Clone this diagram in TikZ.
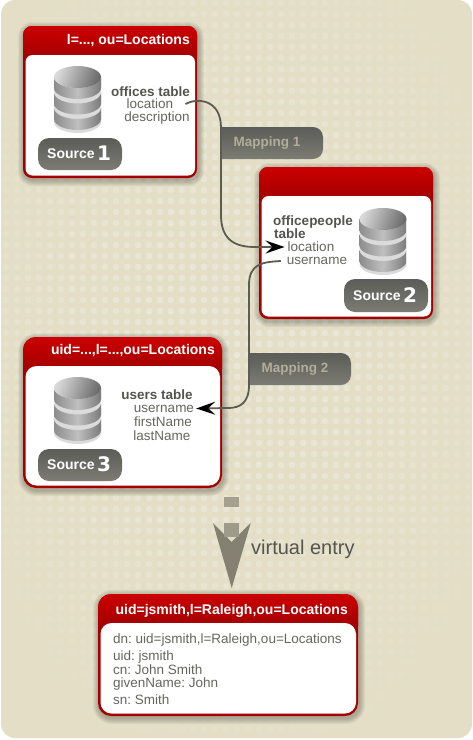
\documentclass[tikz,border=0pt]{standalone}
\usepackage{fontspec}
\setmainfont{Liberation Sans}
\newfontfamily\numfont{DejaVu Sans}
\frenchspacing
\usetikzlibrary{arrows.meta}

\definecolor{paper}{HTML}{E3DEC5}
\definecolor{paperdot}{HTML}{EBE7D8}
\definecolor{boxred}{HTML}{CC0000}
\definecolor{boxdark}{HTML}{A30000}
\definecolor{inktext}{HTML}{555550}
\definecolor{fieldink}{HTML}{666660}
\definecolor{wire}{HTML}{5C5C50}
\definecolor{slatetop}{HTML}{5C5C58}
\definecolor{slatebottom}{HTML}{7C7C74}

% red box: left, top, right, bottom, radius
\newcommand{\redbox}[5]{
    \foreach \g in {6,5,4,3,2,1} {
        \fill[black, opacity=0.045, rounded corners={#5+\g}]
            ({#1-\g+1},{#2-\g+2}) rectangle ({#3+\g+1},{#4+\g+2});
    }
    \fill[boxdark!95!boxred, rounded corners=#5] (#1,#2) rectangle (#3,#4);
    \shade[top color=boxred, bottom color=boxdark] (#1,{#2+32}) [rounded corners=#5] -- (#1,#2) -- (#3,#2) [sharp corners] -- (#3,{#2+32}) -- cycle;
    \fill[white, rounded corners={#5-2}] ({#1+2.5},{#2+29}) rectangle ({#3-2},{#4-2.5});
}

\tikzset{
    headtext/.style={anchor=east, inner sep=0pt, text=white, font=\fontsize{14}{14}\selectfont\bfseries},
    tablehead/.style={text=inktext, font=\fontsize{13.5}{13.5}\selectfont\bfseries, inner sep=0pt},
    fieldtext/.style={text=fieldink, font=\fontsize{13.5}{13.5}\selectfont, inner sep=0pt},
    badge/.style={rounded corners=11pt, top color=slatetop, bottom color=slatebottom},
    badgetext/.style={text=white, font=\fontsize{14}{14}\selectfont\bfseries, anchor=base west, inner sep=0pt},
    badgenum/.style={text=white, font=\numfont\fontsize{20}{20}\selectfont\bfseries, anchor=base west, inner sep=0pt},
    tab/.style={top color=slatetop, bottom color=slatebottom},
    tabtext/.style={text=paper!78!black, font=\fontsize{13.5}{13.5}\selectfont\bfseries, inner sep=0pt},
    link/.style={draw=wire, line width=1.8pt},
    tiptop/.style={-{Stealth[length=19pt,width=13pt,inset=7pt,black]}},
    dbicon/.pic={
        % tiers, bottom one first
        \foreach \t in {31,15.5,0} {
            \fill[black!14] (-23.5,\t+11) -- (-23.5,\t+25) arc (180:0:23.5 and 11) -- (23.5,\t+11) -- cycle;
            \shade[left color=black!45, right color=black!52, middle color=black!25]
                (-23.5,\t+11) -- (-23.5,\t+22) arc (180:0:23.5 and 11) -- (23.5,\t+11) arc (0:180:23.5 and 11) -- cycle;
        }
        \shade[left color=black!15, right color=black!58, shading angle=70] (0,11) ellipse (23.5 and 11);
    },
}

\begin{document}
\begin{tikzpicture}[x=1pt,y=-1pt]
    \useasboundingbox (0,0) rectangle (472,740);

    % Paper and its dots
    \fill[white] (0,0) rectangle (472,740);
    \fill[paper, rounded corners=14pt] (1,0) rectangle (472,738);
    \foreach \r in {0,...,66} {
        \foreach \c in {0,...,42} {
            \pgfmathsetmacro{\fade}{max(0,1-((\c*11+6-236)/300)^2-((\r*11+3-340)/450)^2)}
            \fill[paperdot, opacity=\fade] ({\c*11+6},{\r*11+3}) circle (3.4);
        }
    }

    % Source 1
    \redbox{23}{26}{197}{178}{9}
    \node[headtext] (head1) at (190,41) {l=..., ou=Locations};
    \pic at (77.5,66) {dbicon};
    \path[badge] (38,138) rectangle (122,170);
    \node[badgetext] (src1) at (47,158) {Source};
    \node[badgenum] (num1) at (97,160) {1};
    \node[tablehead] (offices) at (150.5,92) {offices table};
    \node[fieldtext] (location1) at (150,104) {location};
    \node[fieldtext] (description) at (157,118) {description};

    % Source 2
    \redbox{259}{167}{433}{319}{9}
    \pic at (383,208) {dbicon};
    \path[badge] (344,279) rectangle (428,312);
    \node[badgetext] (src2) at (353,300) {Source};
    \node[badgenum] (num2) at (403,302) {2};
    \node[tablehead] (officepeople) at (313,222) {officepeople};
    \node[tablehead, anchor=west] (peopletable) at (274,234) {table};
    \node[fieldtext] (location2) at (311,247) {location};
    \node[fieldtext] (username2) at (317,261) {username};

    % Source 3
    \redbox{23}{337}{222}{488}{13}
    \node[headtext] (head3) at (215,351) {uid=...,l=...,ou=Locations};
    \pic at (77.5,377) {dbicon};
    \path[badge] (38,449) rectangle (122,481);
    \node[badgetext] (src3) at (47,469) {Source};
    \node[badgenum] (num3) at (97,471) {3};
    \node[tablehead] (users) at (157,394.5) {users table};
    \node[fieldtext] (username3) at (164,408.5) {username};
    \node[fieldtext] (firstname) at (163,422) {firstName};
    \node[fieldtext] (lastname) at (162,436) {lastName};

    % Mapping tabs
    \path[tab] (221,159) -- (221,127) [rounded corners=10pt] -- (323,127) -- (323,159) [sharp corners] -- cycle;
    \node[tabtext] (map1) at (267,143) {Mapping 1};
    \path[tab] (249,385) -- (249,353) [rounded corners=10pt] -- (351,353) -- (351,385) [sharp corners] -- cycle;
    \node[tabtext] (map2) at (295,369) {Mapping 2};

    % Connectors
    \draw[link, tiptop] ([xshift=12pt]location1.east) .. controls (196,98) and (221,98) .. (221,128)
        -- (221,215) .. controls (221,240) and (235,247) .. (255,247) -- ([xshift=-3pt]location2.west);
    \draw[link, tiptop] ([xshift=-6pt]username2.west) .. controls (262,262) and (249,264) .. (249,285)
        -- (249,385) .. controls (249,403) and (240,408) .. (228,408) -- ([xshift=2pt]username3.east);

    % Virtual entry arrow
    \fill[paper!72!black] (224,497) rectangle (239,507);
    \fill[paper!58!black] (213,523) -- (231.7,542) -- (250.7,523) -- (231.7,588) -- cycle;
    \fill[paper!70!black] (224,523) rectangle (239,537);
    \node[text=inktext, font=\fontsize{20}{20}\selectfont, anchor=west, inner sep=0pt] (virtual) at (251,549) {virtual entry};

    % Result entry
    \redbox{98}{594}{358}{716}{13}
    \node[headtext] (head4) at (348,611) {uid=jsmith,l=Raleigh,ou=Locations};
    \node[fieldtext, anchor=base west] (dn) at (113,643) {dn: uid=jsmith,l=Raleigh,ou=Locations};
    \node[fieldtext, anchor=base west] (uid) at (113,660) {uid: jsmith};
    \node[fieldtext, anchor=base west] (cn) at (113,674) {cn: John Smith};
    \node[fieldtext, anchor=base west] (given) at (113,687) {givenName: John};
    \node[fieldtext, anchor=base west] (sn) at (113,704) {sn: Smith};
\end{tikzpicture}
\end{document}
